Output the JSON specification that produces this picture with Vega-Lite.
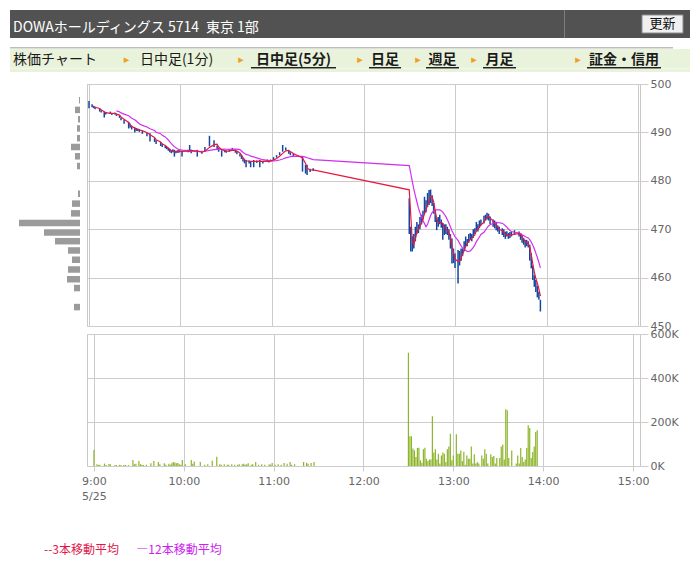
{
"$schema": "https://vega.github.io/schema/vega-lite/v6.json",
"padding": {"left": 10, "top": 10, "right": 0, "bottom": 0},
"background": "#ffffff",
"config": {"view": {"stroke": null}, "font": "Noto Sans CJK JP", "concat": {"spacing": 0}},
"datasets": {
"bars": [
{"m":0,"h":496.5,"l":495,"c":495.6,"v":73000},{"m":2,"h":495.8,"l":495.2,"c":495.4,"v":8000},{"m":3,"h":495.5,"l":495,"c":495.2,"v":5000},{"m":4,"h":495.3,"l":494.8,"c":495,"v":6000},{"m":7,"h":494.9,"l":494.3,"c":494.6,"v":11000},{"m":8,"h":494.6,"l":494.1,"c":494.4,"v":5000},{"m":10,"h":494.3,"l":493.1,"c":493.8,"v":9000},{"m":11,"h":494.2,"l":493.7,"c":494,"v":8000},{"m":14,"h":494.3,"l":493.8,"c":494,"v":4000},{"m":15,"h":494,"l":493.6,"c":493.8,"v":4000},{"m":17,"h":494.1,"l":493.7,"c":493.9,"v":5000},{"m":18,"h":493.9,"l":493.4,"c":493.6,"v":5000},{"m":20,"h":493.5,"l":493,"c":493.2,"v":4000},{"m":21,"h":493.1,"l":492.5,"c":492.8,"v":5000},{"m":23,"h":492.6,"l":491.8,"c":492.2,"v":4000},{"m":26,"h":492.2,"l":490.8,"c":491.2,"v":27000},{"m":27,"h":491.8,"l":491,"c":491.4,"v":8000},{"m":28,"h":491.4,"l":490.6,"c":491,"v":10000},{"m":30,"h":491,"l":490,"c":490.4,"v":23000},{"m":31,"h":490.9,"l":490.3,"c":490.6,"v":8000},{"m":32,"h":490.8,"l":490.3,"c":490.6,"v":6000},{"m":33,"h":490.7,"l":490.1,"c":490.4,"v":5000},{"m":35,"h":490.4,"l":489.7,"c":490,"v":6000},{"m":38,"h":489.9,"l":489.2,"c":489.5,"v":12000},{"m":40,"h":489.8,"l":488.1,"c":489,"v":23000},{"m":43,"h":488.8,"l":488,"c":488.4,"v":18000},{"m":44,"h":488.4,"l":487.6,"c":488,"v":8000},{"m":47,"h":488,"l":487.2,"c":487.6,"v":12000},{"m":48,"h":487.6,"l":487,"c":487.3,"v":6000},{"m":50,"h":487.3,"l":486.7,"c":487,"v":10000},{"m":51,"h":487,"l":486.5,"c":486.8,"v":6000},{"m":52,"h":486.8,"l":486.2,"c":486.5,"v":12000},{"m":53,"h":486.6,"l":485.9,"c":486.2,"v":18000},{"m":54,"h":486.3,"l":485.7,"c":486,"v":16000},{"m":55,"h":486.5,"l":485.9,"c":486.2,"v":12000},{"m":56,"h":486.4,"l":485,"c":485.8,"v":14000},{"m":57,"h":486.2,"l":485.7,"c":486,"v":8000},{"m":58,"h":486.3,"l":485.8,"c":486.1,"v":6000},{"m":59,"h":486.5,"l":485.8,"c":486.2,"v":27000},{"m":61,"h":486.2,"l":485,"c":485.9,"v":8000},{"m":65,"h":486.4,"l":485.9,"c":486.2,"v":27000},{"m":66,"h":487.4,"l":486,"c":486.6,"v":10000},{"m":67,"h":486.4,"l":485.7,"c":486,"v":20000},{"m":71,"h":486.4,"l":485,"c":485.8,"v":18000},{"m":74,"h":486.2,"l":485.6,"c":485.9,"v":6000},{"m":76,"h":487,"l":486,"c":486.6,"v":8000},{"m":79,"h":489.3,"l":487.1,"c":488.2,"v":24000},{"m":82,"h":488.4,"l":487,"c":487.6,"v":42000},{"m":84,"h":487.3,"l":486.5,"c":486.9,"v":8000},{"m":85,"h":486.8,"l":486,"c":486.4,"v":6000},{"m":87,"h":486.3,"l":485,"c":486,"v":8000},{"m":89,"h":486.4,"l":485.9,"c":486.2,"v":6000},{"m":90,"h":486.3,"l":485.8,"c":486,"v":6000},{"m":92,"h":486.5,"l":486,"c":486.3,"v":8000},{"m":94,"h":486.8,"l":486.2,"c":486.5,"v":6000},{"m":96,"h":486.4,"l":485.8,"c":486.1,"v":6000},{"m":97,"h":486.1,"l":485.5,"c":485.8,"v":8000},{"m":99,"h":485.6,"l":485,"c":485.3,"v":8000},{"m":100,"h":485.2,"l":484.5,"c":484.8,"v":10000},{"m":101,"h":484.7,"l":484,"c":484.3,"v":6000},{"m":102,"h":484.3,"l":483.6,"c":484,"v":8000},{"m":103,"h":484.3,"l":482.8,"c":484.1,"v":12000},{"m":105,"h":484.2,"l":483.6,"c":484,"v":6000},{"m":106,"h":484.1,"l":482.8,"c":483.9,"v":8000},{"m":108,"h":484.3,"l":482.8,"c":484.1,"v":18000},{"m":110,"h":484.2,"l":483.7,"c":484,"v":6000},{"m":112,"h":484.3,"l":482.8,"c":484.1,"v":8000},{"m":114,"h":484.1,"l":483.6,"c":483.9,"v":6000},{"m":117,"h":484.4,"l":484,"c":484.2,"v":8000},{"m":118,"h":484.2,"l":483.8,"c":484,"v":6000},{"m":119,"h":484.4,"l":484,"c":484.2,"v":14000},{"m":121,"h":484.9,"l":484.3,"c":484.6,"v":6000},{"m":123,"h":485.3,"l":484.8,"c":485,"v":8000},{"m":125,"h":485.9,"l":485.3,"c":485.6,"v":6000},{"m":127,"h":487.4,"l":486,"c":486.4,"v":14000},{"m":129,"h":486.9,"l":486.3,"c":486.6,"v":10000},{"m":131,"h":486.3,"l":485.6,"c":485.9,"v":18000},{"m":132,"h":485.9,"l":485.3,"c":485.6,"v":6000},{"m":134,"h":485.7,"l":485.1,"c":485.4,"v":8000},{"m":140,"h":485,"l":481.9,"c":483.2,"v":18000},{"m":142,"h":483.3,"l":481.5,"c":482.2,"v":15000},{"m":143,"h":483.3,"l":481.2,"c":482.4,"v":10000},{"m":145,"h":482.5,"l":481.8,"c":482.1,"v":14000},{"m":147,"h":482.6,"l":482,"c":482.3,"v":18000},
{"m":210,"h":476.4,"l":469,"c":470,"v":515000},{"m":211,"h":470.5,"l":465.4,"c":466,"v":135000},{"m":212,"h":468.5,"l":465.4,"c":466.5,"v":135000},{"m":213,"h":469,"l":466,"c":468,"v":79000},{"m":214,"h":470.5,"l":467.5,"c":469.5,"v":71000},{"m":215,"h":471.5,"l":469,"c":470.5,"v":41000},{"m":216,"h":471,"l":469.2,"c":470,"v":82000},{"m":217,"h":472.5,"l":470,"c":471.5,"v":83000},{"m":218,"h":473,"l":471,"c":472,"v":26000},{"m":219,"h":473.8,"l":472,"c":473,"v":15000},{"m":220,"h":476.7,"l":473.3,"c":474.5,"v":76000},{"m":221,"h":476,"l":473.5,"c":474.5,"v":83000},{"m":222,"h":477.5,"l":474.6,"c":476,"v":33000},{"m":223,"h":478.1,"l":475,"c":477,"v":23000},{"m":224,"h":478.2,"l":475.4,"c":477.5,"v":29000},{"m":225,"h":477,"l":474.8,"c":475.5,"v":29000},{"m":226,"h":475.4,"l":473.2,"c":474,"v":226000},{"m":227,"h":474,"l":471.5,"c":472,"v":61000},{"m":228,"h":472.2,"l":469.8,"c":470.5,"v":76000},{"m":229,"h":472.5,"l":470.5,"c":471.5,"v":30000},{"m":230,"h":473,"l":471,"c":472,"v":56000},{"m":231,"h":472,"l":470.3,"c":471,"v":11000},{"m":232,"h":471.3,"l":467.8,"c":470.5,"v":48000},{"m":233,"h":471,"l":468.8,"c":469.5,"v":61000},{"m":234,"h":471,"l":469,"c":470.2,"v":56000},{"m":235,"h":470.5,"l":468.8,"c":469.5,"v":18000},{"m":236,"h":470,"l":467.8,"c":468.5,"v":76000},{"m":237,"h":469,"l":466,"c":467,"v":89000},{"m":238,"h":468.1,"l":462.9,"c":464,"v":147000},{"m":239,"h":466,"l":463,"c":464.5,"v":26000},{"m":240,"h":465,"l":462,"c":463,"v":48000},{"m":242,"h":465.7,"l":458.8,"c":462.5,"v":144000},{"m":243,"h":465.5,"l":462.5,"c":464.5,"v":56000},{"m":244,"h":466,"l":463.5,"c":465,"v":56000},{"m":245,"h":466,"l":464.5,"c":465.2,"v":71000},{"m":246,"h":467.5,"l":465.5,"c":466.5,"v":23000},{"m":247,"h":468.5,"l":466.5,"c":467.5,"v":65000},{"m":248,"h":468,"l":466.5,"c":467,"v":6000},{"m":249,"h":469,"l":467.2,"c":468,"v":48000},{"m":250,"h":469.2,"l":467.8,"c":468.5,"v":33000},{"m":251,"h":469,"l":467.5,"c":468,"v":33000},{"m":252,"h":470,"l":468.2,"c":469,"v":89000},{"m":253,"h":470.2,"l":469,"c":469.5,"v":11000},{"m":254,"h":471.5,"l":469.5,"c":470.5,"v":53000},{"m":255,"h":471,"l":469.5,"c":470,"v":11000},{"m":256,"h":471.8,"l":470.2,"c":471,"v":18000},{"m":257,"h":472,"l":470.8,"c":471.5,"v":11000},{"m":259,"h":472.8,"l":471.2,"c":472,"v":48000},{"m":260,"h":473,"l":471.8,"c":472.5,"v":33000},{"m":261,"h":473.4,"l":472,"c":473,"v":76000},{"m":262,"h":473.2,"l":471.8,"c":472.5,"v":56000},{"m":263,"h":472.6,"l":471,"c":471.5,"v":11000},{"m":265,"h":472,"l":470.5,"c":471,"v":53000},{"m":266,"h":471.8,"l":470.2,"c":471,"v":41000},{"m":267,"h":471.5,"l":469.8,"c":470.5,"v":45000},{"m":268,"h":470.8,"l":469.5,"c":470,"v":11000},{"m":269,"h":470.5,"l":469,"c":469.5,"v":36000},{"m":271,"h":470.2,"l":468.8,"c":469.5,"v":36000},{"m":272,"h":470,"l":468.4,"c":469,"v":89000},{"m":273,"h":469.5,"l":468,"c":468.5,"v":98000},{"m":274,"h":469.6,"l":468.5,"c":469,"v":30000},{"m":275,"h":469.2,"l":468,"c":468.5,"v":258000},{"m":276,"h":469.4,"l":468.2,"c":468.8,"v":253000},{"m":277,"h":469.5,"l":468.5,"c":469,"v":36000},{"m":279,"h":469.8,"l":468.8,"c":469.2,"v":71000},{"m":282,"h":469.5,"l":468.5,"c":469,"v":11000},{"m":283,"h":469.2,"l":467.8,"c":468.5,"v":48000},{"m":284,"h":468.8,"l":467.2,"c":467.8,"v":11000},{"m":285,"h":468.2,"l":466.8,"c":467.5,"v":82000},{"m":286,"h":467.8,"l":466.2,"c":467,"v":41000},{"m":287,"h":467.8,"l":466.5,"c":467.2,"v":18000},{"m":288,"h":467.5,"l":466.2,"c":466.8,"v":30000},{"m":289,"h":466.8,"l":463.5,"c":465,"v":82000},{"m":290,"h":465,"l":461.9,"c":462.5,"v":185000},{"m":291,"h":462.5,"l":459.5,"c":461,"v":173000},{"m":292,"h":460.5,"l":458.1,"c":460,"v":36000},{"m":293,"h":459.5,"l":457,"c":458.5,"v":64000},{"m":294,"h":458.3,"l":455.9,"c":458,"v":89000},{"m":295,"h":457.1,"l":455.4,"c":456.5,"v":155000},{"m":296,"h":455.4,"l":453,"c":454,"v":162000}
],
"profile": [
{"p":497.6,"pv":20000},{"p":495.5,"pv":100000},{"p":493.5,"pv":40000},{"p":491.5,"pv":60000},{"p":489.4,"pv":60000},{"p":487.5,"pv":180000},{"p":485.5,"pv":100000},{"p":483.4,"pv":60000},{"p":477.4,"pv":40000},{"p":475.3,"pv":160000},{"p":473.2,"pv":180000},{"p":471.1,"pv":1220000},{"p":469.1,"pv":720000},{"p":467.2,"pv":500000},{"p":465.2,"pv":240000},{"p":463.2,"pv":160000},{"p":461.1,"pv":240000},{"p":459.0,"pv":260000},{"p":457.1,"pv":120000},{"p":453.0,"pv":120000}
]
},
"spacing": 0,
"vconcat": [
{"hconcat": [
  {"width": 554, "height": 28, "view": {"fill": "#525252"}, "data": {"values": []}, "mark": "point",
   "title": {"text": "DOWAホールディングス 5714\u2002東京 1部", "anchor": "start", "orient": "top", "offset": -25, "dx": 3, "color": "#ffffff", "font": "Noto Sans CJK JP", "fontSize": 14, "fontWeight": "normal"}},
  {"width": 1, "height": 28, "view": {"fill": "#7c7c7c"}, "data": {"values": []}, "mark": "point"},
  {"width": 70, "height": 28, "view": {"fill": "#525252"}, "data": {"values": []}, "mark": "point"},
  {"width": 55, "height": 28, "view": {"fill": "#525252"}, "data": {"values": [{"label": "更新"}]},
   "layer": [
     {"mark": {"type": "point", "shape": "M-1,-0.44H1V0.44H-1Z", "size": 1681, "filled": true, "fill": "#f0f0f0", "stroke": "#8c8c8c", "strokeWidth": 1, "opacity": 1}},
     {"mark": {"type": "text", "font": "Noto Sans CJK JP", "fontSize": 13, "color": "#111111"}, "encoding": {"text": {"field": "label"}}}
   ]}
], "spacing": 0, "bounds": "flush"},
{"width": 10, "height": 9, "data": {"values": []}, "mark": "point"},
{"width": 663, "height": 1.5, "view": {"fill": "#bdbdbd"}, "data": {"values": []}, "mark": "point"},
{"width": 680, "height": 4, "view": {"fill": "#e9f2da"}, "data": {"values": []}, "mark": "point"},
{"hconcat": [
  {"width": 90, "height": 14, "view": {"fill": "#e9f2da"}, "data": {"values": [{"label": "株価チャート"}]}, "mark": {"type": "text", "fontSize": 14, "color": "#1a1a1a"}, "encoding": {"text": {"field": "label"}}},
  {"width": 20, "height": 14, "view": {"fill": "#e9f2da"}, "data": {"values": []}, "mark": "point"},
  {"width": 13, "height": 14, "view": {"fill": "#e9f2da"}, "data": {"values": [{"label": "▸"}]}, "mark": {"type": "text", "font": "DejaVu Sans", "fontSize": 11, "color": "#f0a020"}, "encoding": {"text": {"field": "label"}}},
  {"width": 87, "height": 14, "view": {"fill": "#e9f2da"}, "data": {"values": [{"label": "日中足(1分)"}]}, "mark": {"type": "text", "fontSize": 14, "color": "#1a1a1a"}, "encoding": {"text": {"field": "label"}}},
  {"width": 14, "height": 14, "view": {"fill": "#e9f2da"}, "data": {"values": []}, "mark": "point"},
  {"width": 14, "height": 14, "view": {"fill": "#e9f2da"}, "data": {"values": [{"label": "▸"}]}, "mark": {"type": "text", "font": "DejaVu Sans", "fontSize": 11, "color": "#f0a020"}, "encoding": {"text": {"field": "label"}}},
  {"width": 91, "height": 14, "view": {"fill": "#e9f2da"}, "data": {"values": [{"label": "日中足(5分)"}]}, "mark": {"type": "text", "fontSize": 14, "fontWeight": "bold", "color": "#1a1a1a"}, "encoding": {"text": {"field": "label"}}},
  {"width": 14, "height": 14, "view": {"fill": "#e9f2da"}, "data": {"values": []}, "mark": "point"},
  {"width": 14, "height": 14, "view": {"fill": "#e9f2da"}, "data": {"values": [{"label": "▸"}]}, "mark": {"type": "text", "font": "DejaVu Sans", "fontSize": 11, "color": "#f0a020"}, "encoding": {"text": {"field": "label"}}},
  {"width": 36, "height": 14, "view": {"fill": "#e9f2da"}, "data": {"values": [{"label": "日足"}]}, "mark": {"type": "text", "fontSize": 14, "fontWeight": "bold", "color": "#1a1a1a"}, "encoding": {"text": {"field": "label"}}},
  {"width": 8, "height": 14, "view": {"fill": "#e9f2da"}, "data": {"values": []}, "mark": "point"},
  {"width": 14, "height": 14, "view": {"fill": "#e9f2da"}, "data": {"values": [{"label": "▸"}]}, "mark": {"type": "text", "font": "DejaVu Sans", "fontSize": 11, "color": "#f0a020"}, "encoding": {"text": {"field": "label"}}},
  {"width": 35, "height": 14, "view": {"fill": "#e9f2da"}, "data": {"values": [{"label": "週足"}]}, "mark": {"type": "text", "fontSize": 14, "fontWeight": "bold", "color": "#1a1a1a"}, "encoding": {"text": {"field": "label"}}},
  {"width": 6, "height": 14, "view": {"fill": "#e9f2da"}, "data": {"values": []}, "mark": "point"},
  {"width": 16, "height": 14, "view": {"fill": "#e9f2da"}, "data": {"values": [{"label": "▸"}]}, "mark": {"type": "text", "font": "DejaVu Sans", "fontSize": 11, "color": "#f0a020"}, "encoding": {"text": {"field": "label"}}},
  {"width": 35, "height": 14, "view": {"fill": "#e9f2da"}, "data": {"values": [{"label": "月足"}]}, "mark": {"type": "text", "fontSize": 14, "fontWeight": "bold", "color": "#1a1a1a"}, "encoding": {"text": {"field": "label"}}},
  {"width": 54, "height": 14, "view": {"fill": "#e9f2da"}, "data": {"values": []}, "mark": "point"},
  {"width": 14, "height": 14, "view": {"fill": "#e9f2da"}, "data": {"values": [{"label": "▸"}]}, "mark": {"type": "text", "font": "DejaVu Sans", "fontSize": 11, "color": "#f0a020"}, "encoding": {"text": {"field": "label"}}},
  {"width": 78, "height": 14, "view": {"fill": "#e9f2da"}, "data": {"values": [{"label": "証金・信用"}]}, "mark": {"type": "text", "fontSize": 14, "fontWeight": "bold", "color": "#1a1a1a"}, "encoding": {"text": {"field": "label"}}},
  {"width": 27, "height": 14, "view": {"fill": "#e9f2da"}, "data": {"values": []}, "mark": "point"}
], "spacing": 0, "bounds": "flush"},
{"hconcat": [
  {"width": 241, "height": 1.5, "view": {"fill": "#e9f2da"}, "data": {"values": []}, "mark": "point"},
  {"width": 85, "height": 1.5, "view": {"fill": "#222222"}, "data": {"values": []}, "mark": "point"},
  {"width": 33, "height": 1.5, "view": {"fill": "#e9f2da"}, "data": {"values": []}, "mark": "point"},
  {"width": 32, "height": 1.5, "view": {"fill": "#222222"}, "data": {"values": []}, "mark": "point"},
  {"width": 25, "height": 1.5, "view": {"fill": "#e9f2da"}, "data": {"values": []}, "mark": "point"},
  {"width": 33, "height": 1.5, "view": {"fill": "#222222"}, "data": {"values": []}, "mark": "point"},
  {"width": 24, "height": 1.5, "view": {"fill": "#e9f2da"}, "data": {"values": []}, "mark": "point"},
  {"width": 33, "height": 1.5, "view": {"fill": "#222222"}, "data": {"values": []}, "mark": "point"},
  {"width": 71, "height": 1.5, "view": {"fill": "#e9f2da"}, "data": {"values": []}, "mark": "point"},
  {"width": 74, "height": 1.5, "view": {"fill": "#222222"}, "data": {"values": []}, "mark": "point"},
  {"width": 29, "height": 1.5, "view": {"fill": "#e9f2da"}, "data": {"values": []}, "mark": "point"}
], "spacing": 0, "bounds": "flush"},
{"width": 680, "height": 3, "view": {"fill": "#e9f2da"}, "data": {"values": []}, "mark": "point"},
{"width": 10, "height": 5, "data": {"values": []}, "mark": "point"},
{"hconcat": [
  {"width": 70, "height": 242, "data": {"name": "profile"},
   "mark": {"type": "bar", "orient": "horizontal", "size": 6.5, "color": "#9b9b9b"},
   "encoding": {
     "x": {"field": "pv", "type": "quantitative", "scale": {"domain": [0, 1400000], "reverse": true, "nice": false}, "axis": null},
     "y": {"field": "p", "type": "quantitative", "scale": {"domain": [450, 500], "nice": false, "zero": false}, "axis": null}
   }},
  {"vconcat": [
    {"width": 553, "height": 242, "view": {"stroke": "#c8c8c8", "strokeWidth": 1}, "data": {"name": "bars"},
     "encoding": {"x": {"field": "m", "type": "quantitative", "scale": {"domain": [-1.31, 361.31], "nice": false, "zero": false},
       "axis": {"values": [0, 60, 120, 180, 240, 300, 360], "grid": true, "gridColor": "#cccccc", "labels": false, "ticks": false, "domain": false, "title": null}}},
     "layer": [
       {"mark": {"type": "rule", "color": "#1447a0", "strokeWidth": 1.5},
        "encoding": {
          "y": {"field": "l", "type": "quantitative", "scale": {"domain": [450, 500], "nice": false, "zero": false},
            "axis": {"orient": "right", "values": [450, 460, 470, 480, 490, 500], "grid": true, "gridColor": "#cccccc", "tickColor": "#cccccc", "tickSize": 8, "domain": false, "labelColor": "#666666", "labelFont": "DejaVu Sans", "labelFontSize": 11, "labelPadding": 2, "title": null}},
          "y2": {"field": "h"}}},
       {"transform": [{"window": [{"op": "mean", "field": "c", "as": "ma12"}, {"op": "row_number", "as": "n"}], "frame": [-11, 0], "sort": [{"field": "m", "order": "ascending"}]}, {"filter": "datum.n >= 12"}],
        "mark": {"type": "line", "color": "#d22ef0", "strokeWidth": 1.2},
        "encoding": {"y": {"field": "ma12", "type": "quantitative",
            "axis": {"orient": "right", "values": [450, 460, 470, 480, 490, 500], "grid": true, "gridColor": "#cccccc", "tickColor": "#cccccc", "tickSize": 8, "domain": false, "labelColor": "#666666", "labelFont": "DejaVu Sans", "labelFontSize": 11, "labelPadding": 2, "title": null}}}},
       {"transform": [{"window": [{"op": "mean", "field": "c", "as": "ma3"}, {"op": "row_number", "as": "n"}], "frame": [-2, 0], "sort": [{"field": "m", "order": "ascending"}]}, {"filter": "datum.n >= 3"}],
        "mark": {"type": "line", "color": "#e8173f", "strokeWidth": 1.2},
        "encoding": {"y": {"field": "ma3", "type": "quantitative",
            "axis": {"orient": "right", "values": [450, 460, 470, 480, 490, 500], "grid": true, "gridColor": "#cccccc", "tickColor": "#cccccc", "tickSize": 8, "domain": false, "labelColor": "#666666", "labelFont": "DejaVu Sans", "labelFontSize": 11, "labelPadding": 2, "title": null}}}}
     ]},
    {"width": 10, "height": 8, "data": {"values": []}, "mark": "point"},
    {"width": 553, "height": 132, "view": {"stroke": "#c8c8c8", "strokeWidth": 1}, "data": {"name": "bars"},
     "mark": {"type": "bar", "color": "#8db52c", "size": 1.2},
     "encoding": {
       "x": {"field": "m", "type": "quantitative", "scale": {"domain": [-1.31, 361.31], "nice": false, "zero": false},
         "axis": {"values": [0, 60, 120, 180, 240, 300, 360], "grid": true, "gridColor": "#cccccc", "ticks": true, "tickColor": "#cccccc", "tickSize": 5, "domain": false,
           "labelExpr": "datum.value == 0 ? ['9:00', '5/25'] : (9 + datum.value / 60) + ':00'",
           "labelColor": "#666666", "labelFont": "DejaVu Sans", "labelFontSize": 11, "labelPadding": 4.5, "labelLineHeight": 15, "labelFlush": false, "labelOverlap": false, "title": null}},
       "y": {"field": "v", "type": "quantitative", "scale": {"domain": [0, 600000], "nice": false},
         "axis": {"orient": "right", "values": [0, 200000, 400000, 600000], "labelExpr": "(datum.value / 1000) + 'K'", "grid": true, "gridColor": "#cccccc", "tickColor": "#cccccc", "tickSize": 8, "domain": false, "labelColor": "#666666", "labelFont": "DejaVu Sans", "labelFontSize": 11, "labelPadding": 2, "title": null}}
     }}
  ], "spacing": 0, "bounds": "flush"}
], "spacing": 7, "bounds": "flush"},
{"width": 10, "height": 38, "data": {"values": []}, "mark": "point"},
{"hconcat": [
  {"width": 30, "height": 20, "data": {"values": []}, "mark": "point"},
  {"width": 83, "height": 20, "data": {"values": [{"label": "--3本移動平均"}]}, "mark": {"type": "text", "fontSize": 12, "color": "#e0174a"}, "encoding": {"text": {"field": "label"}}},
  {"width": 11, "height": 20, "data": {"values": []}, "mark": "point"},
  {"width": 90, "height": 20, "data": {"values": [{"label": "―12本移動平均"}]}, "mark": {"type": "text", "fontSize": 12, "color": "#cc22ee"}, "encoding": {"text": {"field": "label"}}}
], "spacing": 0, "bounds": "flush"}
]
}
